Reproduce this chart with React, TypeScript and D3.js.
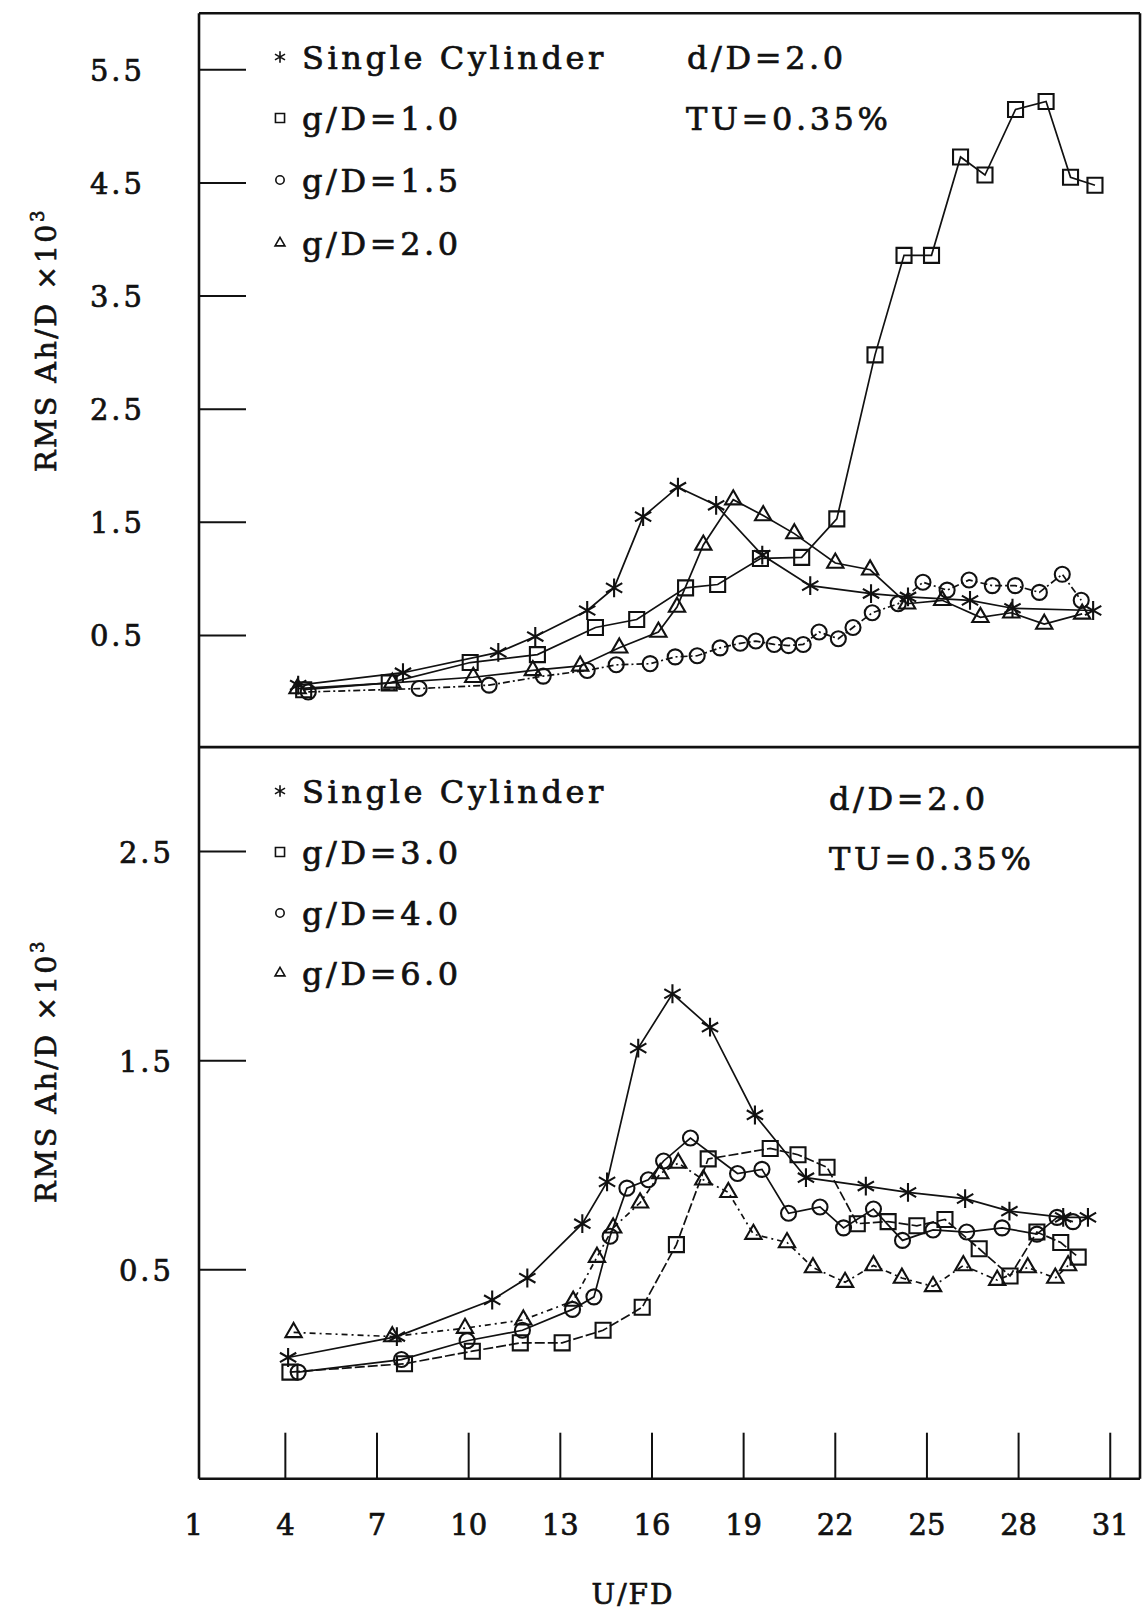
import React from 'react';
import * as d3 from 'd3';

// ---------- axes ----------
const xTickValues = [1, 4, 7, 10, 13, 16, 19, 22, 25, 28, 31];
const topTickValues = [0.5, 1.5, 2.5, 3.5, 4.5, 5.5];
const bottomTickValues = [0.5, 1.5, 2.5];
const xLabel = 'U/FD';

// ---------- top panel ----------
const topSingleX = [4.42, 7.85, 10.97, 12.18, 13.88, 14.76, 15.71, 16.85, 18.1, 19.61, 21.18, 23.17, 24.38, 26.41, 27.8, 30.44];
const topSingleY = [0.06, 0.17, 0.35, 0.49, 0.72, 0.92, 1.55, 1.81, 1.65, 1.21, 0.94, 0.87, 0.84, 0.81, 0.74, 0.72];

const g10X = [4.6, 7.4, 10.05, 12.25, 14.15, 15.5, 17.1, 18.15, 19.55, 20.9, 22.05, 23.3, 24.25, 25.15, 26.1, 26.9, 27.9, 28.9, 29.7, 30.5];
const g10Y = [0.02, 0.08, 0.26, 0.33, 0.57, 0.64, 0.92, 0.95, 1.18, 1.19, 1.53, 2.98, 3.86, 3.86, 4.73, 4.57, 5.15, 5.22, 4.55, 4.48];

const g15X = [4.75, 8.38, 10.67, 12.44, 13.88, 14.83, 15.94, 16.76, 17.48, 18.23, 18.89, 19.4, 20.0, 20.47, 20.95, 21.47, 22.1, 22.58, 23.21, 24.06, 24.87, 25.66, 26.38, 27.14, 27.89, 28.68, 29.43, 30.05];
const g15Y = [0.0, 0.03, 0.06, 0.14, 0.19, 0.24, 0.25, 0.31, 0.32, 0.39, 0.43, 0.45, 0.42, 0.41, 0.42, 0.53, 0.47, 0.57, 0.7, 0.78, 0.97, 0.9, 0.99, 0.94, 0.94, 0.88, 1.04, 0.81];

const g20X = [4.4, 7.5, 10.15, 12.1, 13.65, 14.93, 16.21, 16.82, 17.68, 18.66, 19.64, 20.66, 22.0, 23.14, 24.35, 25.5, 26.75, 27.76, 28.84, 30.08];
const g20Y = [0.03, 0.08, 0.13, 0.19, 0.23, 0.39, 0.53, 0.75, 1.3, 1.7, 1.56, 1.4, 1.14, 1.08, 0.78, 0.81, 0.66, 0.7, 0.6, 0.69];

// ---------- bottom panel ----------
const botSingleX = [4.09, 7.65, 10.77, 11.92, 13.72, 14.53, 15.55, 16.67, 17.9, 19.37, 21.04, 23.0, 24.38, 26.25, 27.7, 29.46, 30.27];
const botSingleY = [0.08, 0.18, 0.355, 0.46, 0.72, 0.92, 1.56, 1.82, 1.66, 1.24, 0.94, 0.9, 0.87, 0.84, 0.78, 0.75, 0.75];

const g30X = [4.15, 7.9, 10.12, 11.69, 13.06, 14.4, 15.68, 16.8, 17.84, 19.87, 20.78, 21.73, 22.72, 23.73, 24.67, 25.59, 26.71, 27.72, 28.6, 29.38, 29.95];
const g30Y = [0.01, 0.05, 0.11, 0.15, 0.15, 0.21, 0.32, 0.62, 1.03, 1.08, 1.05, 0.99, 0.72, 0.73, 0.71, 0.74, 0.6, 0.47, 0.68, 0.63, 0.56];

const g40X = [4.42, 7.8, 9.95, 11.76, 13.4, 14.1, 14.63, 15.18, 15.88, 16.38, 17.26, 18.8, 19.6, 20.47, 21.5, 22.27, 23.25, 24.2, 25.2, 26.3, 27.46, 28.6, 29.26, 29.78];
const g40Y = [0.01, 0.07, 0.16, 0.21, 0.31, 0.37, 0.66, 0.89, 0.93, 1.02, 1.13, 0.96, 0.98, 0.77, 0.8, 0.7, 0.79, 0.64, 0.69, 0.68, 0.7, 0.67, 0.75, 0.73];

const g60X = [4.27, 7.5, 9.88, 11.79, 13.42, 14.2, 14.73, 15.61, 16.27, 16.86, 17.68, 18.5, 19.32, 20.42, 21.27, 22.32, 23.25, 24.18, 25.2, 26.19, 27.3, 28.3, 29.2, 29.62];
const g60Y = [0.2, 0.18, 0.22, 0.26, 0.35, 0.56, 0.7, 0.82, 0.96, 1.01, 0.93, 0.87, 0.67, 0.63, 0.51, 0.44, 0.52, 0.46, 0.42, 0.52, 0.45, 0.51, 0.46, 0.52];

const topLegend = ['Single  Cylinder', 'g/D=1.0', 'g/D=1.5', 'g/D=2.0'];
const bottomLegend = ['Single  Cylinder', 'g/D=3.0', 'g/D=4.0', 'g/D=6.0'];
const noteLines = ['d/D=2.0', 'TU=0.35%'];

// ---------- layout ----------
const W = 1142;
const H = 1615;
const FONT = '"DejaVu Serif", serif';
const INK = '#111';
const FRAME_L = 199;
const FRAME_R = 1140;

const xScale = d3.scaleLinear().domain([1, 32]).range([193.7, 1140.8]);
const yTop = d3.scaleLinear().domain([-0.5, 6.0]).range([748.5, 13.3]);
const yBot = d3.scaleLinear().domain([-0.5, 3.0]).range([1478.7, 747.1]);

const shapeTypes: Record<string, any> = {
  star: d3.symbolAsterisk,
  square: d3.symbolSquare2,
  circle: d3.symbolCircle,
  triangle: d3.symbolTriangle2,
};
const markerSize: Record<string, number> = { star: 250, square: 287, circle: 177, triangle: 190 };
const legendSize: Record<string, number> = { star: 95, square: 105, circle: 55, triangle: 70 };

function sym(shape: string, size: number) {
  return d3.symbol().type(shapeTypes[shape]).size(size)() as string;
}

type S = { xs: number[]; ys: number[]; shape: string; dash: string };

function Series({ s, y }: { s: S; y: d3.ScaleLinear<number, number> }) {
  const pts = s.xs.map((x, i) => [x, s.ys[i]] as [number, number]);
  const line = d3.line<[number, number]>().x((d) => xScale(d[0])).y((d) => y(d[1]));
  const path = sym(s.shape, markerSize[s.shape]);
  return (
    <g>
      <path d={line(pts) || ''} fill="none" stroke={INK} strokeWidth={1.7} strokeDasharray={s.dash} />
      {pts.map((p, i) => (
        <path key={i} d={path} transform={`translate(${xScale(p[0])},${y(p[1])})`} fill="none" stroke={INK} strokeWidth={2.1} />
      ))}
    </g>
  );
}

const textStyle = { fontFamily: FONT, fill: INK, stroke: INK, strokeWidth: 0.7 } as const;

function Legend({ labels, shapes, x, baselines }: { labels: string[]; shapes: string[]; x: number; baselines: number[] }) {
  return (
    <g>
      {labels.map((l, i) => (
        <g key={i}>
          <path d={sym(shapes[i], legendSize[shapes[i]])} transform={`translate(${x},${baselines[i] - 12})`} fill="none" stroke={INK} strokeWidth={1.6} />
          <text x={x + 22} y={baselines[i]} fontSize={32} letterSpacing={3.6} style={textStyle}>
            {l}
          </text>
        </g>
      ))}
    </g>
  );
}

function YTitle({ cx, cy }: { cx: number; cy: number }) {
  return (
    <text transform={`translate(${cx},${cy}) rotate(-90)`} textAnchor="middle" fontSize={28.5} letterSpacing={2.5} style={textStyle}>
      RMS  Ah/D ×10
      <tspan fontSize={18} dy={-12}>3</tspan>
    </text>
  );
}

export default function App() {
  const shapes = ['star', 'square', 'circle', 'triangle'];
  const topSeries: S[] = [
    { xs: topSingleX, ys: topSingleY, shape: 'star', dash: '' },
    { xs: g10X, ys: g10Y, shape: 'square', dash: '' },
    { xs: g15X, ys: g15Y, shape: 'circle', dash: '7,3,2,3' },
    { xs: g20X, ys: g20Y, shape: 'triangle', dash: '' },
  ];
  const botSeries: S[] = [
    { xs: botSingleX, ys: botSingleY, shape: 'star', dash: '' },
    { xs: g30X, ys: g30Y, shape: 'square', dash: '10,3' },
    { xs: g40X, ys: g40Y, shape: 'circle', dash: '' },
    { xs: g60X, ys: g60Y, shape: 'triangle', dash: '6,4,2,4' },
  ];
  const bottomY = yBot(-0.5);
  return (
    <svg width={W} height={H} style={{ position: 'absolute', left: 0, top: 0, background: '#fff' }}>
      <rect x={0} y={0} width={W} height={H} fill="#fff" />
      {/* frame */}
      <g stroke={INK} strokeWidth={2.6} fill="none">
        <line x1={FRAME_L} y1={yTop(6.0)} x2={FRAME_R} y2={yTop(6.0)} />
        <line x1={FRAME_L} y1={yTop(6.0)} x2={FRAME_L} y2={bottomY} />
        <line x1={FRAME_R} y1={yTop(6.0)} x2={FRAME_R} y2={bottomY} />
        <line x1={FRAME_L} y1={yBot(3.0)} x2={FRAME_R} y2={yBot(3.0)} />
        <line x1={FRAME_L} y1={bottomY} x2={FRAME_R} y2={bottomY} />
      </g>
      {/* y ticks */}
      {topTickValues.map((t) => (
        <g key={'tt' + t}>
          <line x1={FRAME_L} x2={FRAME_L + 47} y1={yTop(t)} y2={yTop(t)} stroke={INK} strokeWidth={2} />
          <text x={145} y={yTop(t) + 11} textAnchor="end" fontSize={29} letterSpacing={3} style={textStyle}>
            {t.toFixed(1)}
          </text>
        </g>
      ))}
      {bottomTickValues.map((t) => (
        <g key={'bt' + t}>
          <line x1={FRAME_L} x2={FRAME_L + 47} y1={yBot(t)} y2={yBot(t)} stroke={INK} strokeWidth={2} />
          <text x={174} y={yBot(t) + 11} textAnchor="end" fontSize={29} letterSpacing={3} style={textStyle}>
            {t.toFixed(1)}
          </text>
        </g>
      ))}
      {/* x ticks */}
      {xTickValues.map((t) => (
        <g key={'xt' + t}>
          {t > 1 && <line x1={xScale(t)} x2={xScale(t)} y1={bottomY} y2={bottomY - 46} stroke={INK} strokeWidth={2} />}
          <text x={xScale(t)} y={1535} textAnchor="middle" fontSize={29} style={textStyle}>
            {t}
          </text>
        </g>
      ))}
      <text x={633} y={1604} textAnchor="middle" fontSize={28} letterSpacing={2} style={textStyle}>
        {xLabel}
      </text>
      <YTitle cx={56} cy={340} />
      <YTitle cx={56} cy={1071} />
      {/* legends */}
      <Legend labels={topLegend} shapes={shapes} x={280} baselines={[69, 130, 192, 255]} />
      <Legend labels={bottomLegend} shapes={shapes} x={280} baselines={[803, 864, 925, 985]} />
      <text x={687} y={69} fontSize={32} letterSpacing={3.6} style={textStyle}>{noteLines[0]}</text>
      <text x={686} y={130} fontSize={32} letterSpacing={3.6} style={textStyle}>{noteLines[1]}</text>
      <text x={829} y={810} fontSize={32} letterSpacing={3.6} style={textStyle}>{noteLines[0]}</text>
      <text x={829} y={870} fontSize={32} letterSpacing={3.6} style={textStyle}>{noteLines[1]}</text>
      {/* data */}
      {topSeries.map((s, i) => (
        <Series key={'ts' + i} s={s} y={yTop} />
      ))}
      {botSeries.map((s, i) => (
        <Series key={'bs' + i} s={s} y={yBot} />
      ))}
    </svg>
  );
}
